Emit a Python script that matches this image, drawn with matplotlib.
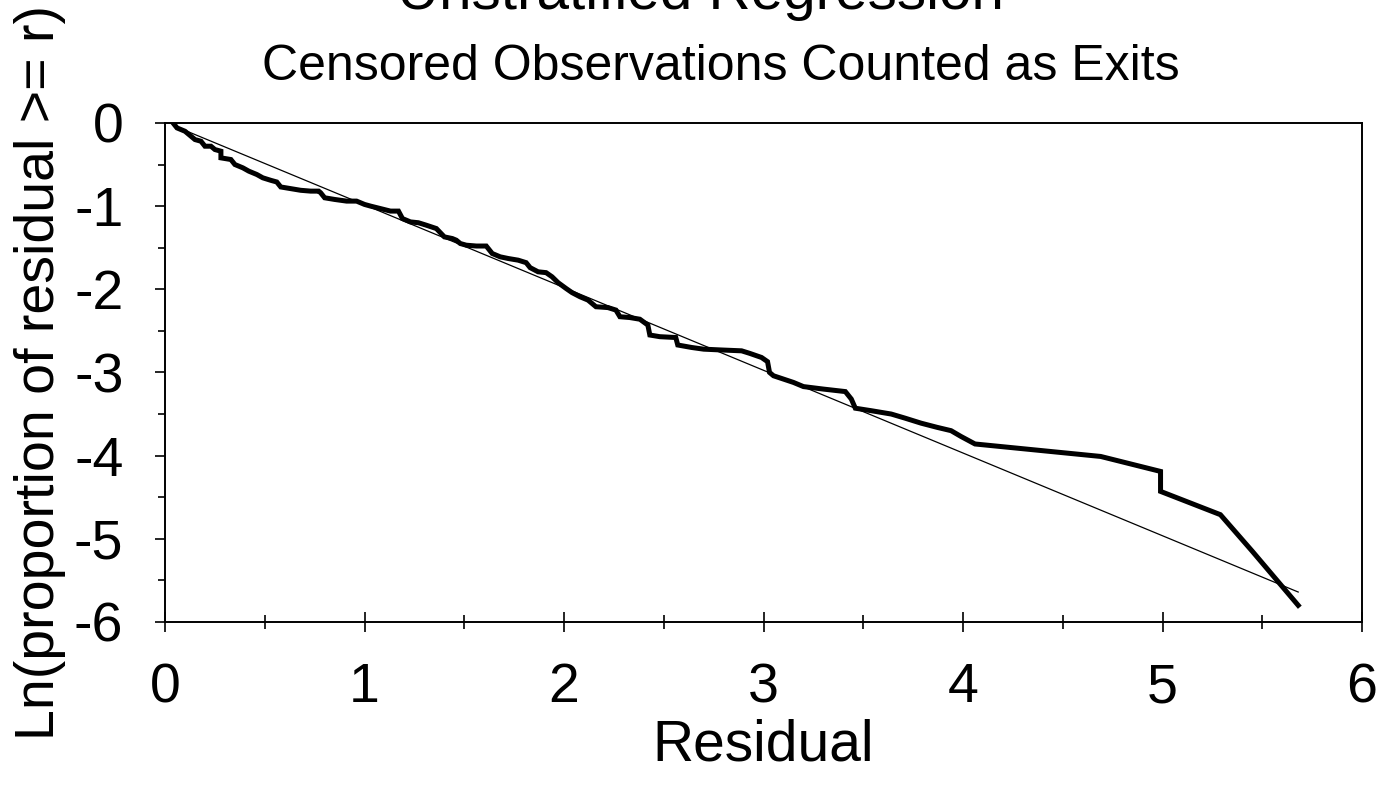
import matplotlib
matplotlib.use("Agg")
import matplotlib.pyplot as plt
from matplotlib.ticker import MultipleLocator

plt.rcParams['font.family'] = ['Liberation Sans', 'DejaVu Sans']
plt.rcParams['axes.unicode_minus'] = False

# empirical curve: residual vs ln(proportion of residual >= r)
resid = [0.04, 0.06, 0.10, 0.15, 0.18, 0.20, 0.23, 0.25, 0.28, 0.28, 0.33, 0.35,
         0.39, 0.42, 0.46, 0.49, 0.53, 0.56, 0.58, 0.63, 0.68, 0.73, 0.77, 0.78,
         0.80, 0.85, 0.91, 0.96, 1.00, 1.03, 1.08, 1.13, 1.17, 1.19, 1.23, 1.27,
         1.31, 1.36, 1.40, 1.44, 1.46, 1.48, 1.51, 1.56, 1.61, 1.64, 1.68, 1.72,
         1.77, 1.81, 1.83, 1.87, 1.91, 1.94, 1.97, 2.01, 2.04, 2.08, 2.12, 2.16,
         2.22, 2.26, 2.28, 2.33, 2.38, 2.42, 2.43, 2.48, 2.56, 2.57, 2.64, 2.70,
         2.79, 2.89, 2.93, 2.99, 3.02, 3.03, 3.05, 3.10, 3.15, 3.20, 3.30, 3.41,
         3.44, 3.46, 3.54, 3.64, 3.71, 3.79, 3.87, 3.94, 3.99, 4.06, 4.69, 4.99,
         4.99, 5.29, 5.45, 5.68]
ln_prop = [0.00, -0.06, -0.10, -0.20, -0.22, -0.28, -0.28, -0.32, -0.34, -0.42, -0.44, -0.50,
           -0.54, -0.58, -0.62, -0.66, -0.69, -0.71, -0.77, -0.79, -0.81, -0.82, -0.82, -0.84,
           -0.90, -0.92, -0.94, -0.94, -0.98, -1.00, -1.03, -1.06, -1.06, -1.15, -1.19, -1.20,
           -1.23, -1.27, -1.37, -1.39, -1.41, -1.45, -1.47, -1.48, -1.48, -1.57, -1.61, -1.63,
           -1.65, -1.68, -1.74, -1.79, -1.80, -1.85, -1.92, -1.99, -2.04, -2.09, -2.13, -2.21,
           -2.22, -2.25, -2.33, -2.34, -2.36, -2.43, -2.55, -2.57, -2.58, -2.67, -2.70, -2.72,
           -2.73, -2.74, -2.77, -2.82, -2.87, -3.00, -3.04, -3.08, -3.12, -3.17, -3.20, -3.23,
           -3.32, -3.43, -3.46, -3.50, -3.55, -3.61, -3.66, -3.70, -3.77, -3.86, -4.01, -4.19,
           -4.43, -4.71, -5.15, -5.80]

# fitted straight line
fit_x = [0.05, 5.68]
fit_y = [-0.04, -5.64]

fig = plt.figure(figsize=(13.87, 7.88), dpi=100)
ax = fig.add_axes([0.119, 0.2107, 0.863, 0.6333])

ax.plot(fit_x, fit_y, color='black', lw=0.9)
ax.plot(resid, ln_prop, color='black', lw=3.6, solid_joinstyle='miter')

ax.set_xlim(0, 6)
ax.set_ylim(-6, 0)
ax.xaxis.set_major_locator(MultipleLocator(1))
ax.xaxis.set_minor_locator(MultipleLocator(0.5))
ax.yaxis.set_major_locator(MultipleLocator(1))
ax.yaxis.set_minor_locator(MultipleLocator(0.5))

for s in ax.spines.values():
    s.set_linewidth(1.4)

ax.tick_params(axis='x', which='major', direction='inout', length=14, width=1.2,
               labelsize=40, pad=22)
ax.tick_params(axis='x', which='minor', direction='inout', length=10, width=1.2)
ax.tick_params(axis='y', which='major', direction='out', length=7, width=1.2,
               labelsize=40, pad=23)
ax.tick_params(axis='y', which='minor', direction='out', length=5, width=1.2)

ax.set_xlabel('Residual', fontsize=41, labelpad=3)
ax.set_ylabel('Ln(proportion of residual >= r)', fontsize=40)
ax.yaxis.set_label_coords(-0.083, 0.5)

fig.text(0.505, 0.988, 'Unstratified Regression', ha='center', va='baseline', fontsize=42)
fig.text(0.52, 0.898, 'Censored Observations Counted as Exits', ha='center',
         va='baseline', fontsize=36)

fig.savefig('out.png', dpi=100)
